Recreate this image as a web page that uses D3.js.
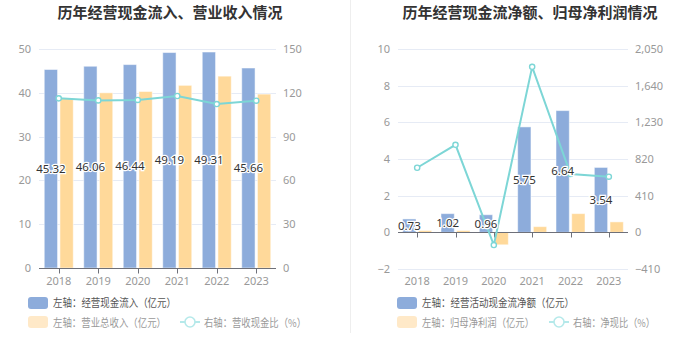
<!DOCTYPE html>
<html><head><meta charset="utf-8">
<script src="https://cdn.jsdelivr.net/npm/d3@7"></script>
<style>body{margin:0;background:#fff;}svg{display:block;font-family:"Noto Sans CJK SC","Noto Sans",sans-serif;}</style>
</head><body>
<svg id="c" width="699" height="359"></svg>
<script>
const years = ["2018","2019","2020","2021","2022","2023"];
// Left chart
const cashInflow = [45.32, 46.06, 46.44, 49.19, 49.31, 45.66];
const revenue = [38.7, 40.0, 40.3, 41.7, 43.8, 39.7];
const cashRevRatio = [116.2, 114.8, 115.1, 117.8, 112.3, 114.6];
const leftTicksL = [0, 10, 20, 30, 40, 50];
const leftTicksR = [0, 30, 60, 90, 120, 150];
// Right chart
const netCashFlow = [0.73, 1.02, 0.96, 5.75, 6.64, 3.54];
const netProfit = [0.10, 0.10, -0.68, 0.31, 1.02, 0.57];
const netCashRatio = [722, 979, -142, 1851, 652, 622];
const rightTicksL = [-2, 0, 2, 4, 6, 8, 10];
const rightTicksR = [-410, 0, 410, 820, 1230, 1640, 2050];

const C_BLUE = "#8dacdb", C_ORANGE = "#ffd99a", C_LINE = "#7dd6d6";
const svg = d3.select("#c");

svg.append("line").attr("x1",350.5).attr("x2",350.5).attr("y1",0).attr("y2",333)
  .attr("stroke","#eeeeee").attr("stroke-width",1);

function panel(o){
  const g = svg.append("g");
  g.append("text").attr("x",o.cx).attr("y",18).attr("text-anchor","middle")
    .attr("font-size",15).attr("font-weight","bold").attr("fill","#333").text(o.title);
  const x = d3.scaleBand().domain(years).range([o.x0,o.x1]);
  const yL = d3.scaleLinear().domain(o.dL).range([o.yb,o.yt]);
  const yR = d3.scaleLinear().domain(o.dR).range([o.yb,o.yt]);
  g.selectAll(".grid").data(o.tL).enter().append("line")
    .attr("x1",o.x0).attr("x2",o.x1).attr("y1",d=>Math.round(yL(d))+0.5).attr("y2",d=>Math.round(yL(d))+0.5)
    .attr("stroke","#e6ebf5").attr("stroke-width",1);
  const axL = d3.axisLeft(yL).tickValues(o.tL).tickSize(0).tickPadding(8).tickFormat(d3.format(","));
  const gl = g.append("g").attr("transform",`translate(${o.x0},0)`).call(axL);
  gl.select(".domain").remove();
  gl.selectAll("text").attr("fill","#999").attr("font-size",11).attr("font-family","'Noto Sans',sans-serif");
  const axR = d3.axisRight(yR).tickValues(o.tR).tickSize(0).tickPadding(7).tickFormat(d3.format(","));
  const gr = g.append("g").attr("transform",`translate(${o.x1},0)`).call(axR);
  gr.select(".domain").remove();
  gr.selectAll("text").attr("fill","#999").attr("font-size",11).attr("font-family","'Noto Sans',sans-serif");
  const bw = 13.3, gap = 2.4;
  const cx = d => x(d) + x.bandwidth()/2;
  g.selectAll(".b1").data(years).enter().append("rect")
    .attr("x",(d)=>cx(d)-gap/2-bw).attr("width",bw)
    .attr("y",(d,i)=>Math.min(yL(o.s1[i]),yL(0))).attr("height",(d,i)=>Math.abs(yL(o.s1[i])-yL(0)))
    .attr("fill",C_BLUE).attr("stroke","#ffffff").attr("stroke-opacity",0.5).attr("stroke-width",1);
  g.selectAll(".b2").data(years).enter().append("rect")
    .attr("x",(d)=>cx(d)+gap/2).attr("width",bw)
    .attr("y",(d,i)=>Math.min(yL(o.s2[i]),yL(0))).attr("height",(d,i)=>Math.abs(yL(o.s2[i])-yL(0)))
    .attr("fill",C_ORANGE).attr("stroke","#ffffff").attr("stroke-opacity",0.5).attr("stroke-width",1);
  const y0 = Math.round(yL(0))+0.5;
  g.append("line").attr("x1",o.x0).attr("x2",o.x1).attr("y1",y0).attr("y2",y0).attr("stroke","#6e7079");
  g.selectAll(".tk").data(years).enter().append("line")
    .attr("x1",d=>Math.round(cx(d))+0.5).attr("x2",d=>Math.round(cx(d))+0.5).attr("y1",y0).attr("y2",y0+5)
    .attr("stroke","#6e7079");
  g.selectAll(".xl").data(years).enter().append("text")
    .attr("x",cx).attr("y",285).attr("text-anchor","middle").attr("font-size",11)
    .attr("font-family","'Noto Sans',sans-serif").attr("fill","#999").text(d=>d);
  const line = d3.line().x((d,i)=>cx(years[i])).y(d=>yR(d));
  g.append("path").datum(o.s3).attr("d",line).attr("fill","none").attr("stroke",C_LINE).attr("stroke-width",2);
  g.selectAll(".pt").data(o.s3).enter().append("circle")
    .attr("cx",(d,i)=>cx(years[i])).attr("cy",d=>yR(d)).attr("r",2.6)
    .attr("fill","#fff").attr("stroke",C_LINE).attr("stroke-width",1.4);
  g.selectAll(".lb").data(o.s1).enter().append("text")
    .attr("x",(d,i)=>cx(years[i])-gap/2-bw/2).attr("y",d=>(yL(d)+yL(0))/2+4)
    .attr("text-anchor","middle").attr("font-size",11.5).attr("font-family","'Noto Sans',sans-serif")
    .attr("fill","#333").attr("stroke","#fff").attr("stroke-width",2.5).attr("paint-order","stroke")
    .text(d=>d.toFixed(2));
  const lg = g.append("g");
  lg.append("rect").attr("x",o.lx).attr("y",297).attr("width",20).attr("height",12).attr("rx",3).attr("fill",C_BLUE);
  lg.append("text").attr("x",o.lx+25).attr("y",307).attr("font-size",11).attr("fill","#555")
    .attr("textLength",o.w1).attr("lengthAdjust","spacingAndGlyphs").text(o.n1);
  lg.append("rect").attr("x",o.lx).attr("y",316).attr("width",20).attr("height",12).attr("rx",3).attr("fill","#ffe9c8");
  lg.append("text").attr("x",o.lx+25).attr("y",327).attr("font-size",11).attr("fill","#999")
    .attr("textLength",o.w2).attr("lengthAdjust","spacingAndGlyphs").text(o.n2);
  lg.append("line").attr("x1",o.lx2).attr("x2",o.lx2+20).attr("y1",322).attr("y2",322).attr("stroke","#b5e9ea").attr("stroke-width",2);
  lg.append("circle").attr("cx",o.lx2+10).attr("cy",322).attr("r",5).attr("fill","#fff").attr("stroke","#b5e9ea").attr("stroke-width",1.6);
  lg.append("text").attr("x",o.lx2+24).attr("y",327).attr("font-size",11).attr("fill","#999")
    .attr("textLength",o.w3).attr("lengthAdjust","spacingAndGlyphs").text(o.n3);
}

panel({title:"历年经营现金流入、营业收入情况", cx:170, x0:39, x1:276, yt:49, yb:268,
  dL:[0,50], dR:[0,150], tL:leftTicksL, tR:leftTicksR, s1:cashInflow, s2:revenue, s3:cashRevRatio,
  lx:28, lx2:180, w1:123, w2:113, w3:102,
  n1:"左轴：经营现金流入（亿元）", n2:"左轴：营业总收入（亿元）", n3:"右轴：营收现金比（%）"});
panel({title:"历年经营现金流净额、归母净利润情况", cx:530, x0:398, x1:628, yt:49, yb:269,
  dL:[-2,10], dR:[-410,2050], tL:rightTicksL, tR:rightTicksR, s1:netCashFlow, s2:netProfit, s3:netCashRatio,
  lx:397, lx2:549, w1:152, w2:112, w3:82,
  n1:"左轴：经营活动现金流净额（亿元）", n2:"左轴：归母净利润（亿元）", n3:"右轴：净现比（%）"});
</script>
</body></html>
